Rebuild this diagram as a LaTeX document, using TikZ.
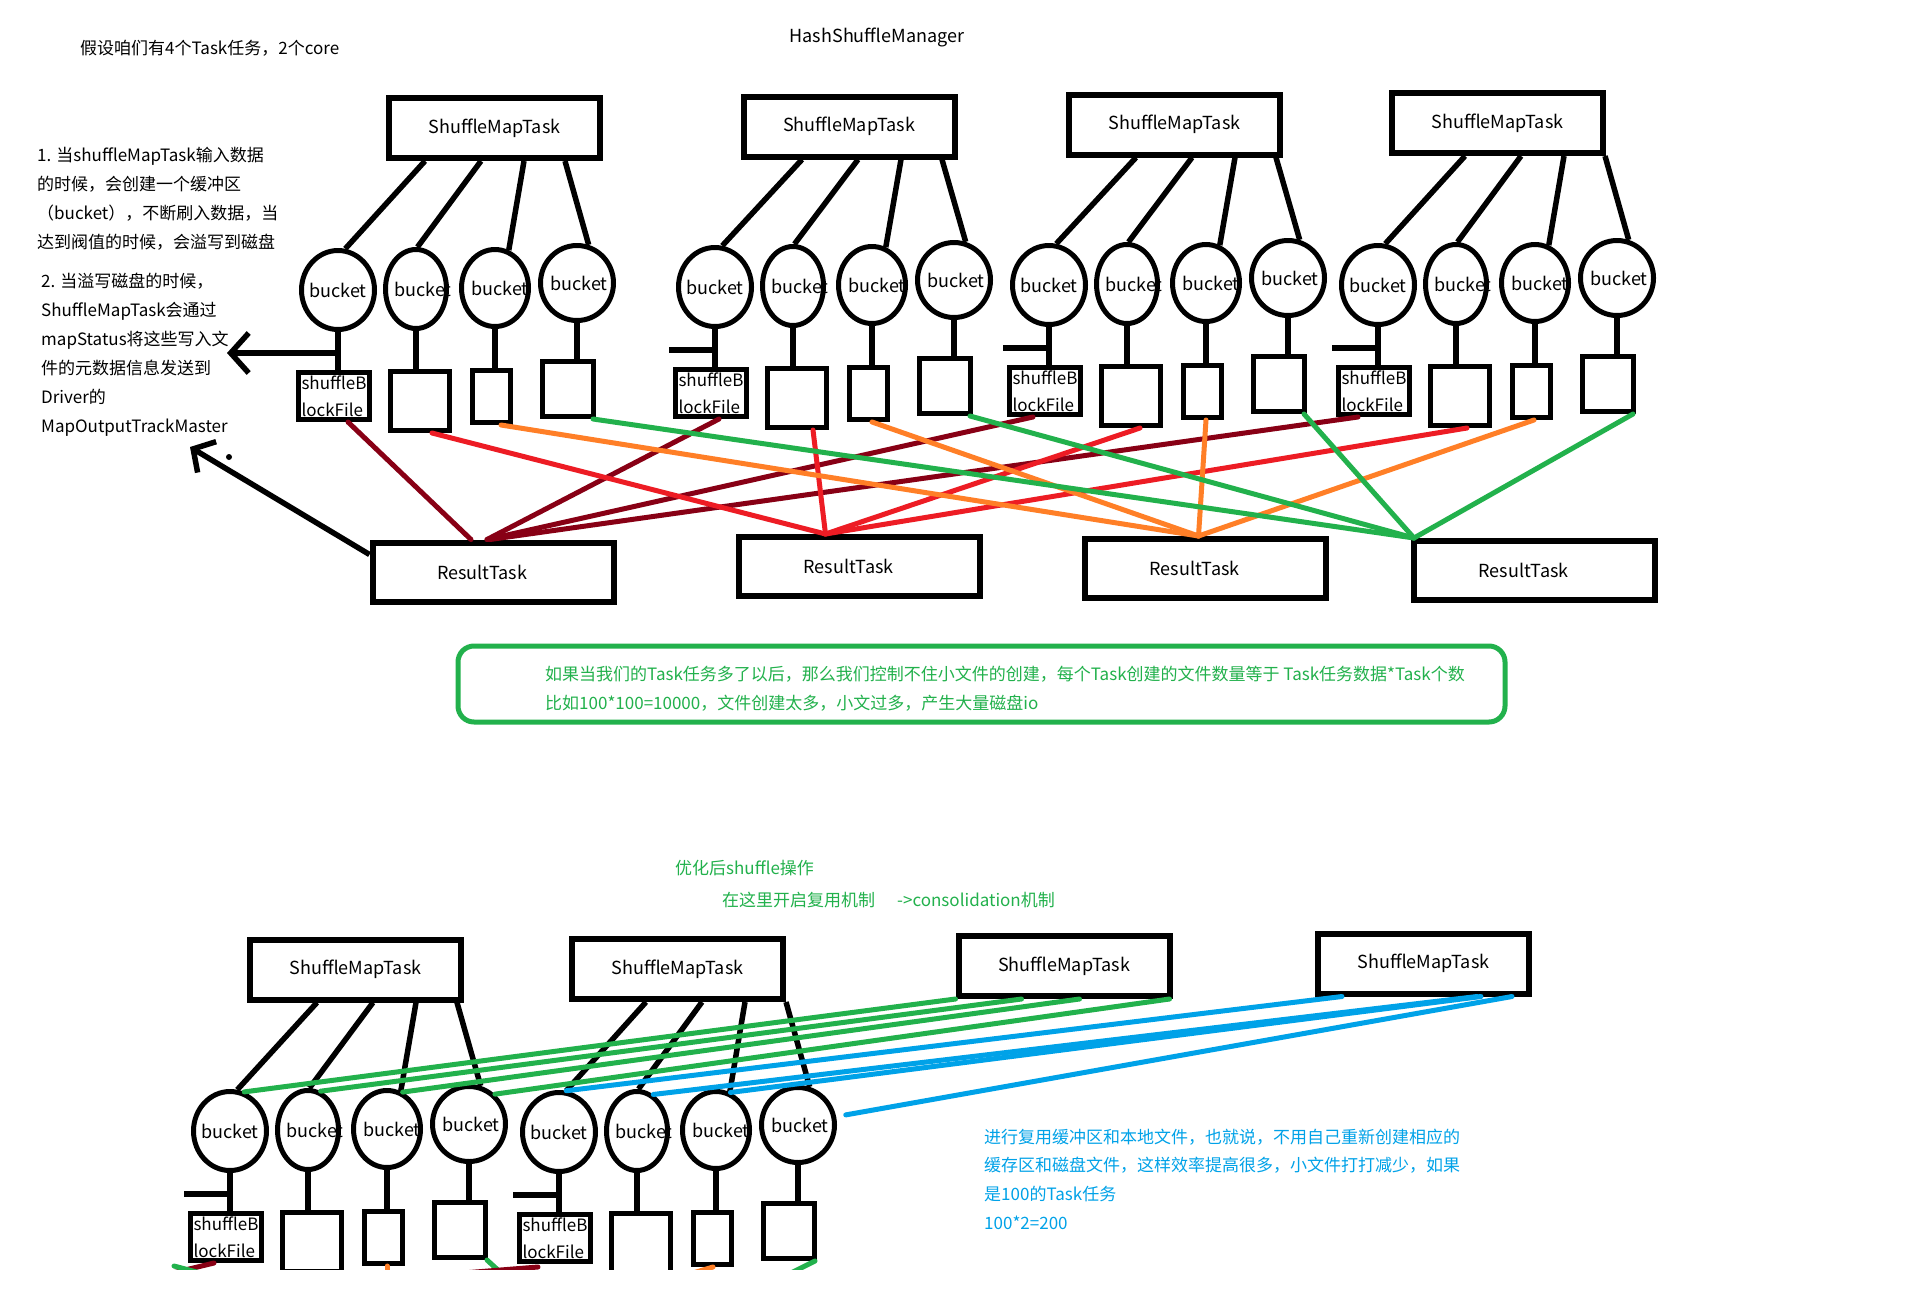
\documentclass[tikz,border=0pt]{standalone}
\usepackage{fontspec}
\setmainfont{Noto Sans CJK SC}
\usepackage{tikz}
\usetikzlibrary{shapes,arrows.meta,positioning}

\definecolor{paintdarkred}{HTML}{880015}
\definecolor{paintred}{HTML}{ED1C24}
\definecolor{paintorange}{HTML}{FF7F27}
\definecolor{paintgreen}{HTML}{22B14C}
\definecolor{paintblue}{HTML}{00A2E8}

\newcommand{\shapefont}{\fontsize{18}{28}\selectfont}
\newcommand{\filefont}{\fontsize{17}{27}\selectfont}
\newcommand{\notesfont}{\fontsize{17}{29}\selectfont}

\tikzstyle{maptask} = [rectangle, draw, line width=6pt, minimum width=211pt, minimum height=60pt, font=\shapefont]
\tikzstyle{result} = [rectangle, draw, line width=6pt, minimum width=241pt, minimum height=59pt, font=\shapefont]
\tikzstyle{bucket} = [ellipse, draw, line width=5pt, inner sep=0pt, font=\shapefont]
\tikzstyle{diskfile} = [rectangle, draw, line width=5pt, inner sep=0pt, align=left, font=\filefont]
\tikzstyle{warnbox} = [rectangle, draw=paintgreen, line width=5pt, rounded corners=16pt, minimum width=1047pt, minimum height=76pt]
\tikzstyle{notes} = [anchor=north west, align=left, inner sep=0pt, font=\notesfont]
\tikzstyle{wire} = [line width=5.5pt]
\tikzstyle{feed} = [line width=5pt, line cap=round]

\begin{document}
\begin{tikzpicture}[x=1pt, y=-1pt]
    \path[fill=white, use as bounding box] (0,0) rectangle (1919,1293);
    \clip (0,0) rectangle (1919,1269);

    % Titles and notes
    \node[notes, anchor=west] (assume) at (80,48) {假设咱们有4个Task任务，2个core};
    \node[font=\shapefont, inner sep=0pt] (title) at (877,37) {HashShuffleManager};
    \node[notes] (spill) at (37,147) {1. 当shuffleMapTask输入数据\\的时候，会创建一个缓冲区\\（bucket），不断刷入数据，当\\达到阀值的时候，会溢写到磁盘};
    \node[notes] (report) at (41,273) {2. 当溢写磁盘的时候，\\ShuffleMapTask会通过\\mapStatus将这些写入文\\件的元数据信息发送到\\Driver的\\MapOutputTrackMaster};

    % Map tasks, hash shuffle
    \node[maptask] (T1) at (494.5,128) {ShuffleMapTask};
    \node[maptask] (T2) at (849,126.5) {ShuffleMapTask};
    \node[maptask] (T3) at (1174.5,124.5) {ShuffleMapTask};
    \node[maptask] (T4) at (1497.5,123) {ShuffleMapTask};

    % Map tasks, consolidation
    \node[maptask] (B1) at (355.5,969.5) {ShuffleMapTask};
    \node[maptask] (B2) at (677.5,969) {ShuffleMapTask};
    \node[maptask] (B3) at (1064,966) {ShuffleMapTask};
    \node[maptask] (B4) at (1423.5,963.5) {ShuffleMapTask};

    % Result tasks
    \node[result] (R1) at (493,572) {ResultTask\hspace*{22pt}};
    \node[result] (R2) at (859.5,566.5) {ResultTask\hspace*{22pt}};
    \node[result] (R3) at (1205.5,568.5) {ResultTask\hspace*{22pt}};
    \node[result] (R4) at (1534.5,570.5) {ResultTask\hspace*{22pt}};

    % Buckets and their files, one group per map task
    \foreach \g/\bx/\by/\tk in {1/338/290/T1, 2/715/287/T2, 3/1049/285/T3, 4/1378/285/T4, 5/230/1131/B1, 6/559/1132/B2}{
        \foreach \i/\dx/\dy/\w/\h/\tx/\fx/\fy/\fw/\fh/\sx/\an in {1/0/0/73/79/0/-4/106/71/47/87/80, 2/78/-1/61/79/14/82/111/59/59/143/88, 3/157/-2/67/77/10/153/106.5/38/52/186/70, 4/239/-7/73/75/4/230/99/51/55/227/73}{
            \pgfmathsetmacro\lx{\bx+\sx}
            \node[bucket, minimum width=\w pt, minimum height=\h pt] (b\g\i) at (\bx+\dx,\by+\dy) {\makebox[0pt]{\hspace*{\tx pt}bucket}};
            \node[diskfile, minimum width=\fw pt, minimum height=\fh pt] (f\g\i) at (\bx+\fx,\by+\fy) {\ifnum\i=1 shuffleB\\lockFile\fi};
            \draw[wire] (\lx,0 |- \tk.south) -- (b\g\i.\an);
            \draw[wire] (b\g\i.south) -- (b\g\i.south |- f\g\i.north);
        }
        \path (b\g1.south |- f\g1.north) ++(0,-17) coordinate (j\g);
        \draw[wire] (j\g) -- ++(-46,0);
    }

    % Map status to the driver
    \coordinate (driver) at (227,0 |- j1);
    \coordinate (tracker) at (190,447);
    \draw[wire, -{Straight Barb[length=18pt,width=40pt]}] (j1) -- (driver);
    \draw[wire, -{Straight Barb[length=16pt,width=36pt]}] ([yshift=-15pt]R1.north west) -- (tracker);
    \node[circle, fill, inner sep=0pt, minimum size=6pt] (speck) at (229,457) {};

    % Files read by the result tasks
    \draw[feed, paintdarkred] ([xshift=14pt]f11.south) -- ([xshift=-22pt]R1.north);
    \draw[feed, paintdarkred] ([xshift=8pt]f21.south) -- ([xshift=-6pt]R1.north);
    \draw[feed, paintdarkred] ([xshift=-12pt]f31.south) -- ([xshift=-6pt]R1.north);
    \draw[feed, paintdarkred] ([xshift=-16pt]f41.south) -- ([xshift=-3pt]R1.north);
    \draw[feed, paintred] ([xshift=12pt]f12.south) -- ([xshift=-34pt]R2.north);
    \draw[feed, paintred] ([xshift=16pt]f22.south) -- ([xshift=-34pt]R2.north);
    \draw[feed, paintred] ([xshift=9pt]f32.south) -- ([xshift=-34pt]R2.north);
    \draw[feed, paintred] ([xshift=7pt]f42.south) -- ([xshift=-34pt]R2.north);
    \draw[feed, paintorange] ([xshift=10pt]f13.south) -- ([xshift=-7pt]R3.north);
    \draw[feed, paintorange] ([xshift=4pt]f23.south) -- ([xshift=-7pt]R3.north);
    \draw[feed, paintorange] ([xshift=4pt]f33.south) -- ([xshift=-7pt]R3.north);
    \draw[feed, paintorange] ([xshift=3pt]f43.south) -- ([xshift=-7pt]R3.north);
    \draw[feed, paintgreen] ([xshift=-3pt]f14.south east) -- ([xshift=3pt]R4.north west);
    \draw[feed, paintgreen] ([xshift=-3pt]f24.south east) -- ([xshift=3pt]R4.north west);
    \draw[feed, paintgreen] ([xshift=-3pt]f34.south east) -- ([xshift=3pt]R4.north west);
    \draw[feed, paintgreen] ([xshift=-3pt]f44.south east) -- ([xshift=3pt]R4.north west);

    % Warning
    \node[warnbox] (warnbox) at (981.5,684) {};
    \node[notes, text=paintgreen] (warn) at (545,665.5) {如果当我们的Task任务多了以后，那么我们控制不住小文件的创建，每个Task创建的文件数量等于 Task任务数据*Task个数\\比如100*100=10000，文件创建太多，小文过多，产生大量磁盘io};

    % Consolidation
    \node[notes, anchor=west, text=paintgreen] (optimized) at (675,868) {优化后shuffle操作};
    \node[notes, anchor=west, text=paintgreen] (consolidate) at (722,900) {在这里开启复用机制\hspace{22pt}->consolidation机制};
    \draw[feed, paintgreen] (b51.70) -- (B3.south west);
    \draw[feed, paintgreen] (b52.72) -- ([xshift=66pt]B3.south west);
    \draw[feed, paintgreen] (b53.67) -- ([xshift=124pt]B3.south west);
    \draw[feed, paintgreen] (b54.49) -- ([xshift=-3pt]B3.south east);
    \draw[feed, paintblue] (b61.80) -- ([xshift=27pt]B4.south west);
    \draw[feed, paintblue] (b62.66) -- ([xshift=162pt]B4.south west);
    \draw[feed, paintblue] (b63.69) -- ([xshift=166pt]B4.south west);
    \draw[feed, paintblue] ([xshift=10pt]b64.15) -- ([xshift=197pt]B4.south west);
    \node[notes, text=paintblue, font=\fontsize{17}{28.7}\selectfont] (reuse) at (984,1128.5) {进行复用缓冲区和本地文件，也就说，不用自己重新创建相应的\\缓存区和磁盘文件，这样效率提高很多，小文件打打减少，如果\\是100的Task任务\\100*2=200};

    % Cut-off reads below the consolidation files
    \draw[feed, paintdarkred] ([xshift=-12pt]f51.south) -- +(-120,29);
    \draw[feed, paintgreen] ([xshift=-14pt,yshift=-3pt]f51.south west) -- +(30,8);
    \draw[feed, paintred] ([xshift=5pt,yshift=-3pt]f52.south) -- +(20,10);
    \draw[feed, paintorange] ([xshift=4pt]f53.south) -- +(0,30);
    \draw[feed, paintgreen] ([xshift=-1pt]f54.south east) -- +(24,22);
    \draw[feed, paintdarkred] ([xshift=-17pt,yshift=-3pt]f61.south) -- +(-100,8);
    \draw[feed, paintred] ([xshift=7pt,yshift=-3pt]f62.south) -- +(-60,6);
    \draw[feed, paintorange] ([xshift=1pt]f63.south) -- +(-60,18);
    \draw[feed, paintgreen] ([xshift=-2pt]f64.south east) -- +(-48,24);
\end{tikzpicture}
\end{document}
